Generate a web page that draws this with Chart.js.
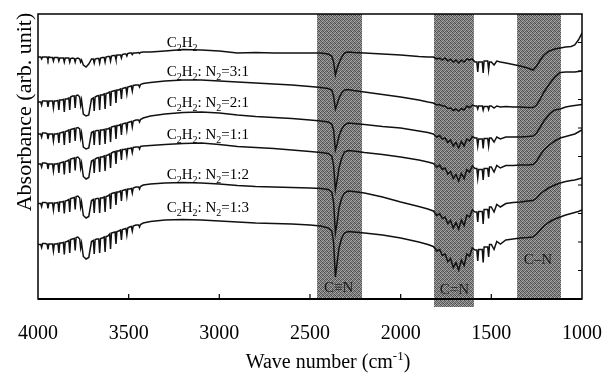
<!DOCTYPE html>
<html><head><meta charset="utf-8">
<script src="https://cdn.jsdelivr.net/npm/chart.js@4.4.1/dist/chart.umd.min.js"></script>
<style>html,body{margin:0;padding:0;background:#fff;}</style>
</head><body>
<canvas id="c" width="611" height="375" style="width:611px;height:375px;display:block"></canvas>
<script>
const SERIF = "'Liberation Serif','Times New Roman',serif";

// wave number grid (cm-1)
const wavenumbers = [
 4000,3985,3980,3975,3960,3950,3945,3940,3930,3920,3915,3910,3900,3890,3885,3880,3870,3860,3855,3850,3840,3830,3825,3820,3810,3800,3795,3790,3780,3770,3765,3760,
 3750,3735,3720,
 3705,3695,3690,3685,3675,3665,3660,3655,3645,3635,3630,3625,3615,3605,3600,3595,3585,3575,3570,3565,3555,3545,3540,3535,3525,3515,3510,3505,3495,3485,3480,3475,3460,3445,3440,3435,3420,
 3380,3300,3200,3100,3000,2900,2800,2700,2600,2500,2440,
 2400,2380,2370,2360,2350,2340,2325,2310,2290,2260,
 2200,2100,2000,1900,1850,
 1820,1800,1785,1770,1755,1740,1725,1710,1695,1680,1665,1650,1635,1620,1605,1590,1580,1575,1570,1560,1550,1545,1540,1530,1520,1515,1510,1500,1485,1470,1450,
 1420,1380,1340,1300,1270,1250,1230,1210,1180,1150,1120,1090,1060,1040,1020,1000
];

// absorbance (arb. unit), offset spectra
const absC2H2 = [
 242,242,240,242,242,242,239,242,241.5,241.5,238,241.5,241.5,241.5,238,241,241,241,237,241,241,241,237,240.5,241,240.5,237,240.5,241,240,237,239,
 234,232,235,
 240,240,236,240,240.5,240.5,236,241,241.5,241.5,237,242,242.5,242.5,238,243,243.5,243.5,239.5,244,244,244,241,244.5,245,245,243,245.5,246,246,244.5,246,246,246.5,245.5,246.5,247,
 247,248,249.5,249,248,246,246.5,246,246,246,246,
 245,243,237,224,231,236,242,246,247,246.5,
 246,245,244,242.5,242,
 242,240,241,239,241,238,240,237,239,236,239,237,240,239,240,237,237,227,237,237,237,226,238,238,238,229,237,237,234,238,237,
 236,234.5,233,231,229,233,239,244,248,250,251,252,252.5,254,259,266
];
const absR31 = [
 197,197,194,198,198,198,192,198,198,198,191,198,198,198.5,189,199,199,199.5,187,200,200,201,189,202,203,203,191,203.5,204,202,194,199,
 185,183,184,
 200,201,188,202,203,203.5,189,204,204,205,190,205.5,206,207,193,207.5,208,208.5,196,209,209,210,200,210.5,211,211.5,205,212,212.5,213,208,213.5,214,214,212,214.5,215.5,
 216.5,218,219,219,218,217,216,215,214,212.5,211.5,
 210.5,209,203,190,195,201,206,209,209.5,208.5,
 207,204.5,202,199,197,
 196,194,194.5,193,193,190.5,191,188.5,190,188,190.5,189,193,191.5,194,193,193,190,193,193,193,189,192.5,192.5,192.5,189.5,193,193,191,193,192,
 192.5,192,192,191.5,191.5,194,200,207,215,222,226.5,227,227,227,227.5,228
];
const absR21 = [
 165,165,162,166,166,165.5,160,165,165,165,158,165,165,165.5,156,166,166.5,167,154,167.5,168,169,156,169.5,170,170.5,158,171,171.5,170,161,166,
 152,150,151,
 166.5,167.5,154,168,168.5,168.5,154,169,169,169.5,155,170,170,171,157,172,172.5,173,160,173.5,173.5,174.5,164,175,175.5,176,169,176.5,177,177.5,172,178,179,179,177,179.5,181,
 183,185,186.5,187,186,184,182.5,181.5,180.5,179,178,
 177,175,169,149,155,163,170,174,176,175.5,
 174.5,172.5,171,168,166.5,
 165,162,163.5,160,161,156.5,159,153,156.5,151,157.5,153,160,158,162.5,161,161,153,160,160,160,150.5,160.5,160.5,160.5,153,161,161,157,162,160,
 162,162,162,162.5,163,166,172,178,185,189,190,192,193,193.5,194,194.5
];
const absR11 = [
 135,135,132,136,136,135.5,130,135,135,135,128,135,135,135.5,126,136,136.5,137,124.5,137.5,138,139,126,140,140.5,141,128.5,141.5,142,140,131,136,
 122.5,120,121.5,
 138,139,126,140,141,141.5,127,142,142,143,128,143.5,144,145,131,146,147,147.5,135,148,148,149,139,149.5,149.5,150,143.5,150.5,150.5,151,146.5,151.5,152,152,150,152.5,153,
 153.5,154.5,155.5,156,154.5,152.5,151.5,150.5,149,147.5,146.5,
 145.5,143,134,109,119,131,141,147,148.5,148,
 146.5,144.5,142,139,137,
 135.5,132,134,129.5,131,125,127.5,120.5,124.5,118,125.5,120.5,129.5,127,133,130.5,130.5,121,129.5,129.5,129.5,119,130.5,130.5,130.5,122,132,132,127,133.5,131,
 133.5,133.5,134,134,134.5,138,144,149,154,158,161,162.5,164,165,167,169
];
const absR12 = [
 95.5,95.5,92.5,96.5,96.5,96,90.5,96,96,96,89,96,96,96.5,87,97,97,97.5,85.5,98,98.5,99.5,87,100.5,101,101.5,89.5,102.5,103,101,92,97,
 83.5,81,82.5,
 98.5,99.5,86,100,100.5,100.5,86,101,101,102,87,102.5,103,104.5,90,105.5,106,106.5,94,107,107,108,98,108.5,109,109.5,102.5,110,110,110.5,106,111,112,112,110,112.5,114,
 115,116,116.5,116,115,113.5,112.5,112,111.5,111,110.5,
 109.5,107,97,66,77,91,101,106,108,107.5,
 106,102,97,92.5,90,
 88,83.5,85.5,80.5,82,75.5,78.5,71,76.5,70,79,73.5,84,82,89,87,87,77,87.5,87.5,87.5,75,89.5,89.5,89.5,80.5,92,92,87,94.5,92,
 95.5,96.5,97,98,98.5,101,105,108,111.5,114,116,117.5,118.5,119,120,121
];
const absR13 = [
 54.5,54.5,51.5,55.5,55.5,55,49.5,55,55,55,48,55,55,55.5,46,56,56,56.5,44.5,57,57.5,58.5,46,59.5,60,60.5,48.5,61.5,62,60,51,56,
 42.5,40,41.5,
 57.5,58.5,45,59.5,60,60,46,60.5,61,62,47,62.5,63,65,50,66,66.5,67,55,67.5,68,69,59,69.5,70,70.5,64,71,72,72.5,68,73,74,74,72,74.5,76,
 77.5,79,79.5,79,78,77,76,75.5,75,74,73,
 71,68,57,22,37,51,61,66,67.5,67,
 66,64,61,57,54.5,
 52.5,48,49.5,43.5,45,37.5,40.5,31.5,36.5,29,39,33.5,45,43,51,49,49,38,49.5,49.5,49.5,36.5,52,52,52,42,54.5,54.5,49.5,57.5,55,
 59,60,61,61.5,62,65,69,73,77,80,82,84,85.5,86.5,87.5,89
];

const seriesNames = ['C2H2','C2H2: N2=3:1','C2H2: N2=2:1','C2H2: N2=1:1','C2H2: N2=1:2','C2H2: N2=1:3'];
const seriesValues = [absC2H2, absR31, absR21, absR11, absR12, absR13];
// label text pieces: [text, subscript?]
const seriesLabelParts = [
 [['C',0],['2',1],['H',0],['2',1]],
 [['C',0],['2',1],['H',0],['2',1],[': N',0],['2',1],['=3:1',0]],
 [['C',0],['2',1],['H',0],['2',1],[': N',0],['2',1],['=2:1',0]],
 [['C',0],['2',1],['H',0],['2',1],[': N',0],['2',1],['=1:1',0]],
 [['C',0],['2',1],['H',0],['2',1],[': N',0],['2',1],['=1:2',0]],
 [['C',0],['2',1],['H',0],['2',1],[': N',0],['2',1],['=1:3',0]]
];
const seriesLabelWn = 3290;
const seriesLabelLevel = [252, 223, 192, 160, 120, 87];

const xTicks = [4000,3500,3000,2500,2000,1500,1000];
const bandRanges = [[2461,2213],[1816,1596],[1358,1116]];
const bandNames = ['C\u2261N','C=N','C\u2013N'];
const bandLabelWn = [2342,1703,1243];
const bandLabelLevel = [7,5,35];
const yMax = 285, yTickStep = 28.5;

// halftone pattern for bands
const pc = document.createElement('canvas'); pc.width = 4; pc.height = 4;
const pctx = pc.getContext('2d');
const shades = ['#4e4e4e','#969696','#646464','#a8a8a8','#8c8c8c','#585858','#b2b2b2','#6a6a6a','#686868','#a0a0a0','#505050','#909090','#acacac','#5c5c5c','#8a8a8a','#4a4a4a'];
shades.forEach((c,i)=>{ pctx.fillStyle=c; pctx.fillRect(i%4, Math.floor(i/4), 1, 1); });

function drawRich(ctx, parts, x, y, size, align, supMode) {
  const main = size + 'px ' + SERIF, small = Math.round(size*0.66) + 'px ' + SERIF;
  let w = 0;
  parts.forEach(([t,s]) => { ctx.font = s ? small : main; w += ctx.measureText(t).width; });
  let cx = align === 'center' ? x - w/2 : x;
  ctx.textAlign = 'left'; ctx.textBaseline = 'alphabetic';
  parts.forEach(([t,s]) => {
    ctx.font = s ? small : main;
    const dy = s ? (supMode ? -size*0.38 : size*0.26) : 0;
    ctx.fillText(t, cx, y + dy);
    cx += ctx.measureText(t).width;
  });
}

const bandsPlugin = {
  id: 'bands',
  beforeDatasetsDraw(chart) {
    const {ctx, chartArea: a, scales: {x}} = chart;
    ctx.save();
    ctx.fillStyle = ctx.createPattern(pc, 'repeat');
    bandRanges.forEach((r, i) => {
      const x1 = x.getPixelForValue(r[0]), x2 = x.getPixelForValue(r[1]);
      const bottom = i === 1 ? a.bottom + 8 : a.bottom;
      ctx.fillRect(Math.min(x1,x2), a.top, Math.abs(x2-x1), bottom - a.top);
    });
    ctx.restore();
  }
};

const decorPlugin = {
  id: 'decor',
  afterDatasetsDraw(chart) {
    const {ctx, chartArea: a, scales: {x, y}} = chart;
    ctx.save();
    ctx.fillStyle = '#000';
    seriesLabelParts.forEach((p, i) => {
      drawRich(ctx, p, x.getPixelForValue(seriesLabelWn), y.getPixelForValue(seriesLabelLevel[i]), 15, 'left');
    });
    ctx.fillStyle = '#1a1a1a';
    ctx.font = '15px ' + SERIF; ctx.textAlign = 'center'; ctx.textBaseline = 'alphabetic';
    bandNames.forEach((t, i) => ctx.fillText(t, x.getPixelForValue(bandLabelWn[i]), y.getPixelForValue(bandLabelLevel[i])));
    ctx.strokeStyle = '#000'; ctx.lineWidth = 1.5;
    ctx.strokeRect(a.left, a.top, a.right - a.left, a.bottom - a.top);
    ctx.lineWidth = 2;
    ctx.beginPath(); ctx.moveTo(a.left, a.bottom); ctx.lineTo(a.right, a.bottom); ctx.stroke();
    ctx.lineWidth = 1.2;
    ctx.beginPath();
    xTicks.slice(1, -1).forEach(v => { const px = x.getPixelForValue(v); ctx.moveTo(px, a.bottom); ctx.lineTo(px, a.bottom - 5); });
    for (let k = 1; k < 10; k++) { const py = y.getPixelForValue(k * yTickStep); ctx.moveTo(a.right, py); ctx.lineTo(a.right - 4, py); }
    ctx.stroke();
    ctx.fillStyle = '#000';
    drawRich(ctx, [['Wave number (cm',0],['-1',1],[')',0]], 328, 368, 20, 'center', true);
    ctx.translate(31, 112); ctx.rotate(-Math.PI/2);
    ctx.font = '22px ' + SERIF; ctx.textAlign = 'center'; ctx.textBaseline = 'alphabetic';
    ctx.fillText('Absorbance (arb. unit)', 0, 0);
    ctx.restore();
  }
};

new Chart(document.getElementById('c'), {
  type: 'line',
  data: {
    datasets: seriesValues.map((vals, i) => ({
      label: seriesNames[i],
      data: wavenumbers.map((w, j) => ({x: w, y: vals[j]})),
      borderColor: '#111', borderWidth: 1.5, pointRadius: 0, tension: 0, fill: false
    }))
  },
  options: {
    responsive: false, animation: false, devicePixelRatio: 1,
    layout: {padding: {left: 38, right: 29, top: 14, bottom: 0}},
    plugins: {legend: {display: false}, tooltip: {enabled: false}},
    scales: {
      x: {
        type: 'linear', reverse: true, min: 1000, max: 4000,
        afterBuildTicks: s => { s.ticks = xTicks.map(v => ({value: v})); },
        afterFit: s => { s.height = 76; s.paddingLeft = 0; s.paddingRight = 0; },
        ticks: {color: '#000', font: {family: SERIF, size: 20}, padding: 15, maxRotation: 0, autoSkip: false,
                callback: v => String(v)},
        grid: {display: false}, border: {display: false}
      },
      y: {display: false, min: 0, max: yMax}
    }
  },
  plugins: [bandsPlugin, decorPlugin]
});
</script>
</body></html>
